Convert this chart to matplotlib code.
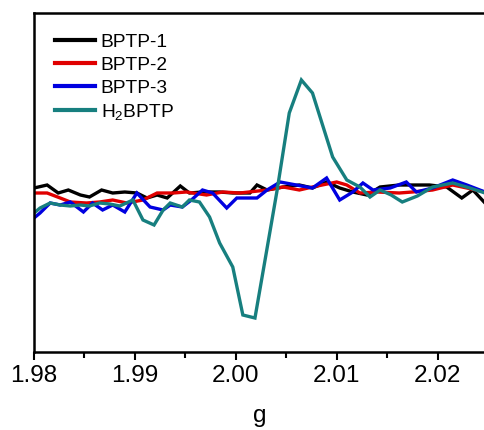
import matplotlib
matplotlib.use("Agg")
import matplotlib.pyplot as plt
from matplotlib.ticker import MultipleLocator

plt.rcParams['font.family'] = ['Liberation Sans', 'DejaVu Sans']
plt.rcParams['mathtext.default'] = 'regular'

g_h2 = [1.9800,1.9806,1.9816,1.9826,1.9836,1.9846,1.9855,1.9865,1.9875,1.9885,
        1.9898,1.9908,1.9919,1.9928,1.9935,1.9947,1.9954,1.9964,1.9974,1.9984,
        1.9997,2.0007,2.0019,2.0029,2.0041,2.0053,2.0065,2.0076,2.0086,2.0096,
        2.0110,2.0123,2.0133,2.0143,2.0154,2.0165,2.0180,2.0195,2.0215,2.0232,2.0247]
y_h2 = [-23,-18,-13,-15,-16,-15,-16,-13,-14,-16,
        -10,-30,-35,-20,-13,-17,-10,-12,-27,-53,
        -77,-125,-128,-70,0,77,110,97,65,33,
        10,3,-7,0,-5,-12,-6,3,7,2,-3]

g_b1 = [1.9800,1.9813,1.9824,1.9834,1.9846,1.9855,1.9867,1.9878,1.9890,1.9902,
        1.9912,1.9922,1.9932,1.9945,1.9954,1.9967,1.9984,1.9997,2.0014,2.0021,
        2.0031,2.0047,2.0063,2.0076,2.0090,2.0103,2.0116,2.0130,2.0143,2.0162,
        2.0192,2.0209,2.0224,2.0235,2.0247]
y_b1 = [2,5,-3,0,-5,-7,0,-3,-2,-3,
        -8,-5,-8,4,-3,-2,-2,-3,-3,5,
        0,3,5,2,8,2,-2,-5,3,5,
        5,3,-8,0,-13]

g_b2 = [1.9800,1.9813,1.9826,1.9836,1.9852,1.9865,1.9878,1.9892,1.9908,1.9922,
        1.9938,1.9951,1.9971,1.9987,2.0004,2.0031,2.0047,2.0063,2.0076,2.0100,
        2.0110,2.0123,2.0140,2.0162,2.0175,2.0195,2.0215,2.0229,2.0247]
y_b2 = [-3,-3,-8,-12,-13,-12,-10,-13,-10,-3,
        -3,-2,-5,-2,-3,0,3,0,3,8,
        5,-3,-2,-3,-2,0,5,2,-2]

g_b3 = [1.9800,1.9806,1.9816,1.9826,1.9836,1.9849,1.9858,1.9868,1.9878,1.9890,
        1.9902,1.9915,1.9928,1.9935,1.9947,1.9956,1.9967,1.9977,1.9991,2.0001,
        2.0021,2.0031,2.0044,2.0060,2.0076,2.0090,2.0103,2.0116,2.0126,2.0136,
        2.0153,2.0169,2.0179,2.0195,2.0215,2.0229,2.0247]
y_b3 = [-28,-23,-13,-15,-12,-22,-13,-20,-15,-22,
        -3,-17,-20,-15,-17,-10,0,-3,-18,-8,
        -8,0,8,5,2,12,-10,-2,7,0,
        2,8,-2,2,10,5,-2]

labels = ['BPTP-1', 'BPTP-2', 'BPTP-3', 'H$_2$BPTP']
colors = ['#000000', '#e00000', '#0000e0', '#177f7f']
xticks = [1.98, 1.99, 2.00, 2.01, 2.02]

fig = plt.figure(figsize=(4.85, 4.3), dpi=100)
ax = fig.add_axes([34/485, 78/430, 1 - 34/485, (352-13)/430])

series = [(g_b1, y_b1), (g_b2, y_b2), (g_b3, y_b3), (g_h2, y_h2)]
for (gx, gy), lab, c in zip(series, labels, colors):
    ax.plot(gx, gy, color=c, lw=2.4, label=lab, solid_joinstyle='miter')

ax.set_xlim(1.98, 2.0247)
ax.set_ylim(-162, 177)
ax.set_xticks(xticks)
ax.set_xticklabels([f"{t:.2f}" for t in xticks])
ax.xaxis.set_minor_locator(MultipleLocator(0.005))
ax.set_yticks([])
ax.tick_params(axis='x', which='major', direction='out', length=6, width=1.5, labelsize=17.5, pad=3)
ax.tick_params(axis='x', which='minor', direction='out', length=4, width=1.5)
for s in ['left', 'bottom', 'top']:
    ax.spines[s].set_linewidth(1.8)
ax.spines['right'].set_visible(False)
ax.set_xlabel('g', fontsize=17.5, labelpad=13)

leg = ax.legend(loc='upper left', frameon=False, fontsize=13.8, handlelength=2.1,
                handletextpad=0.3, labelspacing=0.28, borderaxespad=0, borderpad=0,
                bbox_to_anchor=(0.046, 0.939))
for l in leg.get_lines():
    l.set_linewidth(3)

fig.savefig('out.png', dpi=100)
